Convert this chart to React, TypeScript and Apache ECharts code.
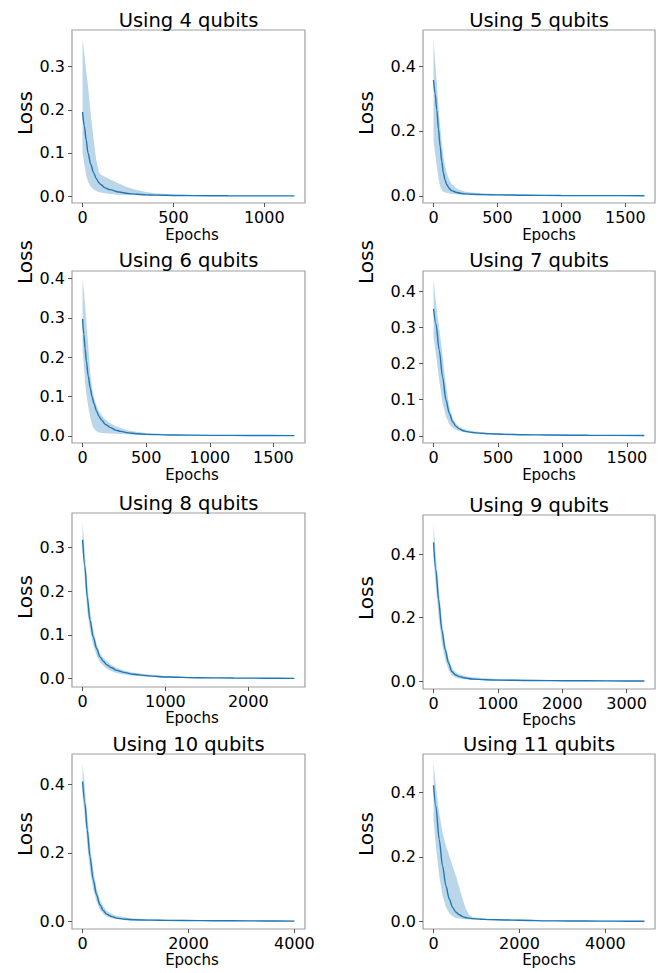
import React, { useEffect, useRef } from "react";
import * as echarts from "echarts";

// ---------- data ----------
const qubitCounts = [4, 5, 6, 7, 8, 9, 10, 11];

const epochs4 = [0, 10, 20, 30, 45, 60, 75, 90, 100, 125, 150, 200, 250, 300, 350, 400, 500, 600, 800, 1000, 1166];
const mean4 = [0.195, 0.162, 0.13, 0.1, 0.074, 0.055, 0.041, 0.031, 0.027, 0.019, 0.015, 0.0095, 0.006, 0.0043, 0.0029, 0.0022, 0.0015, 0.001, 0.0007, 0.0005, 0.0004];
const high4 = [0.364, 0.33, 0.29, 0.256, 0.19, 0.135, 0.085, 0.056, 0.05, 0.044, 0.039, 0.029, 0.02, 0.014, 0.0095, 0.0068, 0.0038, 0.0025, 0.0015, 0.0012, 0.001];
const low4 = [0.102, 0.072, 0.048, 0.034, 0.022, 0.016, 0.012, 0.0095, 0.0085, 0.0065, 0.005, 0.0033, 0.0023, 0.0019, 0.0016, 0.0014, 0.001, 0.0007, 0.0004, 0.0003, 0.0002];

const epochs5 = [0, 13, 26, 39, 52, 65, 78, 91, 104, 125, 143, 175, 210, 250, 300, 400, 500, 700, 1000, 1300, 1650];
const mean5 = [0.357, 0.315, 0.265, 0.205, 0.152, 0.105, 0.07, 0.048, 0.034, 0.022, 0.016, 0.011, 0.008, 0.006, 0.005, 0.0038, 0.003, 0.002, 0.001, 0.0007, 0.0005];
const high5 = [0.485, 0.415, 0.347, 0.278, 0.213, 0.162, 0.121, 0.092, 0.07, 0.048, 0.036, 0.024, 0.017, 0.013, 0.01, 0.0075, 0.006, 0.004, 0.0025, 0.0018, 0.0012];
const low5 = [0.172, 0.13, 0.09, 0.055, 0.029, 0.018, 0.013, 0.01, 0.0085, 0.007, 0.006, 0.0048, 0.0038, 0.003, 0.0025, 0.0017, 0.0012, 0.0008, 0.0004, 0.0003, 0.0002];

const epochs6 = [0, 10, 20, 30, 45, 60, 75, 90, 110, 130, 150, 180, 220, 260, 300, 360, 420, 500, 700, 1000, 1300, 1665];
const mean6 = [0.297, 0.258, 0.222, 0.19, 0.151, 0.122, 0.099, 0.082, 0.063, 0.049, 0.04, 0.029, 0.021, 0.0148, 0.0115, 0.0077, 0.0056, 0.004, 0.0025, 0.0015, 0.001, 0.0007];
const high6 = [0.398, 0.37, 0.332, 0.29, 0.227, 0.162, 0.123, 0.097, 0.077, 0.062, 0.053, 0.041, 0.032, 0.0245, 0.02, 0.0138, 0.0105, 0.0075, 0.004, 0.0025, 0.0018, 0.0012];
const low6 = [0.219, 0.178, 0.136, 0.105, 0.075, 0.048, 0.028, 0.018, 0.012, 0.0088, 0.0075, 0.0067, 0.006, 0.0055, 0.005, 0.0043, 0.0036, 0.003, 0.0017, 0.0008, 0.0005, 0.0003];

const epochs7 = [0, 18, 44, 70, 96, 122, 148, 174, 200, 225, 260, 303, 360, 433, 550, 692, 900, 1200, 1636];
const mean7 = [0.351, 0.31, 0.237, 0.163, 0.099, 0.062, 0.039, 0.026, 0.019, 0.0147, 0.0115, 0.009, 0.0072, 0.0055, 0.004, 0.0028, 0.002, 0.0013, 0.0008];
const high7 = [0.434, 0.37, 0.296, 0.223, 0.14, 0.081, 0.049, 0.033, 0.025, 0.02, 0.016, 0.0128, 0.0105, 0.008, 0.006, 0.0046, 0.0033, 0.0022, 0.0015];
const low7 = [0.273, 0.228, 0.154, 0.09, 0.053, 0.032, 0.022, 0.0165, 0.013, 0.011, 0.009, 0.0073, 0.006, 0.0046, 0.0036, 0.0028, 0.0018, 0.001, 0.0004];

const epochs8 = [0, 28, 56, 89, 129, 169, 210, 250, 290, 350, 411, 500, 613, 800, 1016, 1400, 1823, 2200, 2557];
const mean8 = [0.318, 0.256, 0.187, 0.134, 0.095, 0.069, 0.05, 0.04, 0.032, 0.025, 0.019, 0.0145, 0.01, 0.0065, 0.0038, 0.0022, 0.0015, 0.0011, 0.0008];
const high8 = [0.359, 0.286, 0.218, 0.156, 0.111, 0.08, 0.059, 0.048, 0.04, 0.031, 0.025, 0.019, 0.0137, 0.0095, 0.006, 0.0035, 0.0023, 0.0018, 0.0015];
const low8 = [0.294, 0.225, 0.156, 0.111, 0.076, 0.053, 0.038, 0.03, 0.023, 0.017, 0.013, 0.0095, 0.007, 0.0042, 0.0023, 0.0013, 0.0008, 0.0005, 0.0003];

const epochs9 = [0, 36, 78, 129, 181, 233, 284, 336, 388, 490, 595, 800, 1009, 1500, 2043, 2700, 3277];
const mean9 = [0.437, 0.351, 0.257, 0.162, 0.0995, 0.058, 0.031, 0.021, 0.0157, 0.0105, 0.0073, 0.005, 0.004, 0.0028, 0.002, 0.0014, 0.001];
const high9 = [0.497, 0.393, 0.298, 0.194, 0.12, 0.073, 0.042, 0.03, 0.023, 0.016, 0.0126, 0.0095, 0.0073, 0.0052, 0.004, 0.003, 0.002];
const low9 = [0.382, 0.298, 0.204, 0.12, 0.068, 0.0366, 0.019, 0.013, 0.0094, 0.0068, 0.0052, 0.004, 0.003, 0.0018, 0.001, 0.0006, 0.0003];

const epochs10 = [0, 44, 88, 139, 202, 264, 327, 390, 453, 550, 642, 800, 957, 1300, 1587, 2200, 2846, 3400, 4000];
const mean10 = [0.408, 0.345, 0.267, 0.189, 0.121, 0.078, 0.0485, 0.032, 0.0214, 0.014, 0.0097, 0.0065, 0.0049, 0.0038, 0.003, 0.0025, 0.002, 0.0015, 0.001];
const high10 = [0.461, 0.388, 0.311, 0.228, 0.15, 0.097, 0.063, 0.044, 0.031, 0.022, 0.0165, 0.012, 0.0087, 0.0065, 0.0049, 0.004, 0.003, 0.0025, 0.002];
const low10 = [0.364, 0.301, 0.223, 0.15, 0.092, 0.058, 0.034, 0.022, 0.0146, 0.0095, 0.0068, 0.0045, 0.003, 0.0025, 0.002, 0.0013, 0.0008, 0.0005, 0.0003];

const epochs11 = [0, 54, 132, 210, 288, 366, 444, 521, 599, 677, 755, 833, 911, 1100, 1300, 1650, 2000, 2778, 3500, 4200, 4910];
const mean11 = [0.4215, 0.357, 0.254, 0.172, 0.111, 0.07, 0.044, 0.0287, 0.021, 0.0154, 0.012, 0.0105, 0.0092, 0.0072, 0.006, 0.005, 0.004, 0.002, 0.0015, 0.0012, 0.001];
const high11 = [0.49, 0.418, 0.336, 0.275, 0.234, 0.203, 0.172, 0.142, 0.106, 0.07, 0.039, 0.0205, 0.0133, 0.01, 0.008, 0.007, 0.006, 0.004, 0.003, 0.0025, 0.002];
const low11 = [0.316, 0.234, 0.1415, 0.08, 0.044, 0.0256, 0.0164, 0.0113, 0.0095, 0.0082, 0.007, 0.0065, 0.006, 0.0055, 0.005, 0.004, 0.003, 0.0015, 0.001, 0.0006, 0.0003];

// tick values
const xTicks4 = [0, 500, 1000];
const xTicks5 = [0, 500, 1000, 1500];
const xTicks6 = [0, 500, 1000, 1500];
const xTicks7 = [0, 500, 1000, 1500];
const xTicks8 = [0, 1000, 2000];
const xTicks9 = [0, 1000, 2000, 3000];
const xTicks10 = [0, 2000, 4000];
const xTicks11 = [0, 2000, 4000];

const yTicks4 = [0, 0.1, 0.2, 0.3];
const yTicks5 = [0, 0.2, 0.4];
const yTicks6 = [0, 0.1, 0.2, 0.3, 0.4];
const yTicks7 = [0, 0.1, 0.2, 0.3, 0.4];
const yTicks8 = [0, 0.1, 0.2, 0.3];
const yTicks9 = [0, 0.2, 0.4];
const yTicks10 = [0, 0.2, 0.4];
const yTicks11 = [0, 0.2, 0.4];

// axis ranges (matplotlib 5% margins)
const xRanges = [[-58, 1224], [-82, 1732], [-83, 1748], [-82, 1718], [-128, 2685], [-164, 3441], [-200, 4200], [-245, 5155]];
const yRanges = [[-0.016, 0.385], [-0.022, 0.511], [-0.018, 0.419], [-0.02, 0.456], [-0.019, 0.379], [-0.024, 0.523], [-0.022, 0.488], [-0.023, 0.518]];

const panelData = [
  { ep: epochs4, mean: mean4, hi: high4, lo: low4, xt: xTicks4, yt: yTicks4 },
  { ep: epochs5, mean: mean5, hi: high5, lo: low5, xt: xTicks5, yt: yTicks5 },
  { ep: epochs6, mean: mean6, hi: high6, lo: low6, xt: xTicks6, yt: yTicks6 },
  { ep: epochs7, mean: mean7, hi: high7, lo: low7, xt: xTicks7, yt: yTicks7 },
  { ep: epochs8, mean: mean8, hi: high8, lo: low8, xt: xTicks8, yt: yTicks8 },
  { ep: epochs9, mean: mean9, hi: high9, lo: low9, xt: xTicks9, yt: yTicks9 },
  { ep: epochs10, mean: mean10, hi: high10, lo: low10, xt: xTicks10, yt: yTicks10 },
  { ep: epochs11, mean: mean11, hi: high11, lo: low11, xt: xTicks11, yt: yTicks11 },
];

// ---------- layout ----------
const layout = [
  { left: 72, top: 30, width: 233, height: 173, titleY: 20, lossX: 25, lossY: 113, epX: 192, epY: 235 },
  { left: 423, top: 30, width: 232, height: 173, titleY: 20, lossX: 366, lossY: 113, epX: 549, epY: 235 },
  { left: 72, top: 271, width: 233, height: 172, titleY: 260, lossX: 25, lossY: 262, epX: 192, epY: 475 },
  { left: 423, top: 271, width: 232, height: 172, titleY: 260, lossX: 366, lossY: 262, epX: 549, epY: 475 },
  { left: 72, top: 513, width: 233, height: 174, titleY: 503, lossX: 25, lossY: 597, epX: 192, epY: 718 },
  { left: 423, top: 515, width: 232, height: 174, titleY: 505, lossX: 366, lossY: 598, epX: 549, epY: 720 },
  { left: 72, top: 754, width: 233, height: 175, titleY: 744, lossX: 25, lossY: 834, epX: 192, epY: 960 },
  { left: 423, top: 754, width: 232, height: 175, titleY: 744, lossX: 366, lossY: 834, epX: 549, epY: 960 },
];

const FONT = "DejaVu Sans";
const LINE_COLOR = "#1f77b4";
const BAND_COLOR = "rgba(31,119,180,0.3)";
const FRAME_COLOR = "#a0a0a0";
const TICK_FONT = 16;

function buildOption() {
  const grid: any[] = [];
  const xAxis: any[] = [];
  const yAxis: any[] = [];
  const series: any[] = [];
  const graphic: any[] = [];

  panelData.forEach((d, i) => {
    const L = layout[i];
    grid.push({
      left: L.left,
      top: L.top,
      width: L.width,
      height: L.height,
      show: true,
      borderColor: FRAME_COLOR,
      borderWidth: 1.2,
      backgroundColor: "transparent",
    });
    xAxis.push({
      type: "value",
      gridIndex: i,
      min: xRanges[i][0],
      max: xRanges[i][1],
      splitLine: { show: false },
      axisLine: { show: false, onZero: false },
      axisTick: {
        show: true,
        length: 4,
        lineStyle: { color: "#555", width: 1 },
        customValues: d.xt,
      },
      axisLabel: {
        customValues: d.xt,
        margin: 6,
        fontSize: TICK_FONT,
        fontFamily: FONT,
        color: "#000",
        formatter: (v: number) => String(v),
      },
    });
    yAxis.push({
      type: "value",
      gridIndex: i,
      min: yRanges[i][0],
      max: yRanges[i][1],
      splitLine: { show: false },
      axisLine: { show: false, onZero: false },
      axisTick: {
        show: true,
        length: 4,
        lineStyle: { color: "#555", width: 1 },
        customValues: d.yt,
      },
      axisLabel: {
        customValues: d.yt,
        margin: 7,
        fontSize: TICK_FONT,
        fontFamily: FONT,
        color: "#000",
        formatter: (v: number) => v.toFixed(1),
      },
    });

    const ep = d.ep, hi = d.hi, lo = d.lo;
    series.push({
      type: "custom",
      xAxisIndex: i,
      yAxisIndex: i,
      silent: true,
      z: 1,
      data: [[ep[0], hi[0]]],
      renderItem: (_params: any, api: any) => {
        const pts: number[][] = [];
        for (let k = 0; k < ep.length; k++) pts.push(api.coord([ep[k], hi[k]]));
        for (let k = ep.length - 1; k >= 0; k--) pts.push(api.coord([ep[k], lo[k]]));
        return {
          type: "polygon",
          shape: { points: pts },
          style: { fill: BAND_COLOR, stroke: "none" },
        };
      },
    });
    series.push({
      type: "line",
      xAxisIndex: i,
      yAxisIndex: i,
      z: 2,
      silent: true,
      showSymbol: false,
      smooth: 0.3,
      smoothMonotone: "x",
      lineStyle: { color: LINE_COLOR, width: 1.4 },
      data: d.ep.map((e, k) => [e, d.mean[k]]),
    });

    graphic.push({
      type: "text",
      x: L.left + L.width / 2,
      y: L.titleY,
      style: {
        text: `Using ${qubitCounts[i]} qubits`,
        fontSize: 19.5,
        fontFamily: FONT,
        fill: "#000",
        align: "center",
        verticalAlign: "middle",
        textAlign: "center",
        textVerticalAlign: "middle",
      },
    });
    graphic.push({
      type: "text",
      x: L.lossX,
      y: L.lossY,
      rotation: Math.PI / 2,
      style: {
        text: "Loss",
        fontSize: 20,
        fontFamily: FONT,
        fill: "#000",
        align: "center",
        verticalAlign: "middle",
        textAlign: "center",
        textVerticalAlign: "middle",
      },
    });
    graphic.push({
      type: "text",
      x: L.epX,
      y: L.epY,
      style: {
        text: "Epochs",
        fontSize: 15,
        fontFamily: FONT,
        fill: "#000",
        align: "center",
        verticalAlign: "middle",
        textAlign: "center",
        textVerticalAlign: "middle",
      },
    });
  });

  return {
    animation: false,
    backgroundColor: "#ffffff",
    textStyle: { fontFamily: FONT },
    grid,
    xAxis,
    yAxis,
    series,
    graphic,
  };
}

export default function App() {
  const ref = useRef<HTMLDivElement>(null);
  useEffect(() => {
    document.body.style.margin = "0";
    if (!ref.current) return;
    const chart = echarts.init(ref.current, undefined, { renderer: "svg" });
    chart.setOption(buildOption() as any);
    return () => chart.dispose();
  }, []);
  return <div ref={ref} style={{ width: 664, height: 973 }} />;
}
